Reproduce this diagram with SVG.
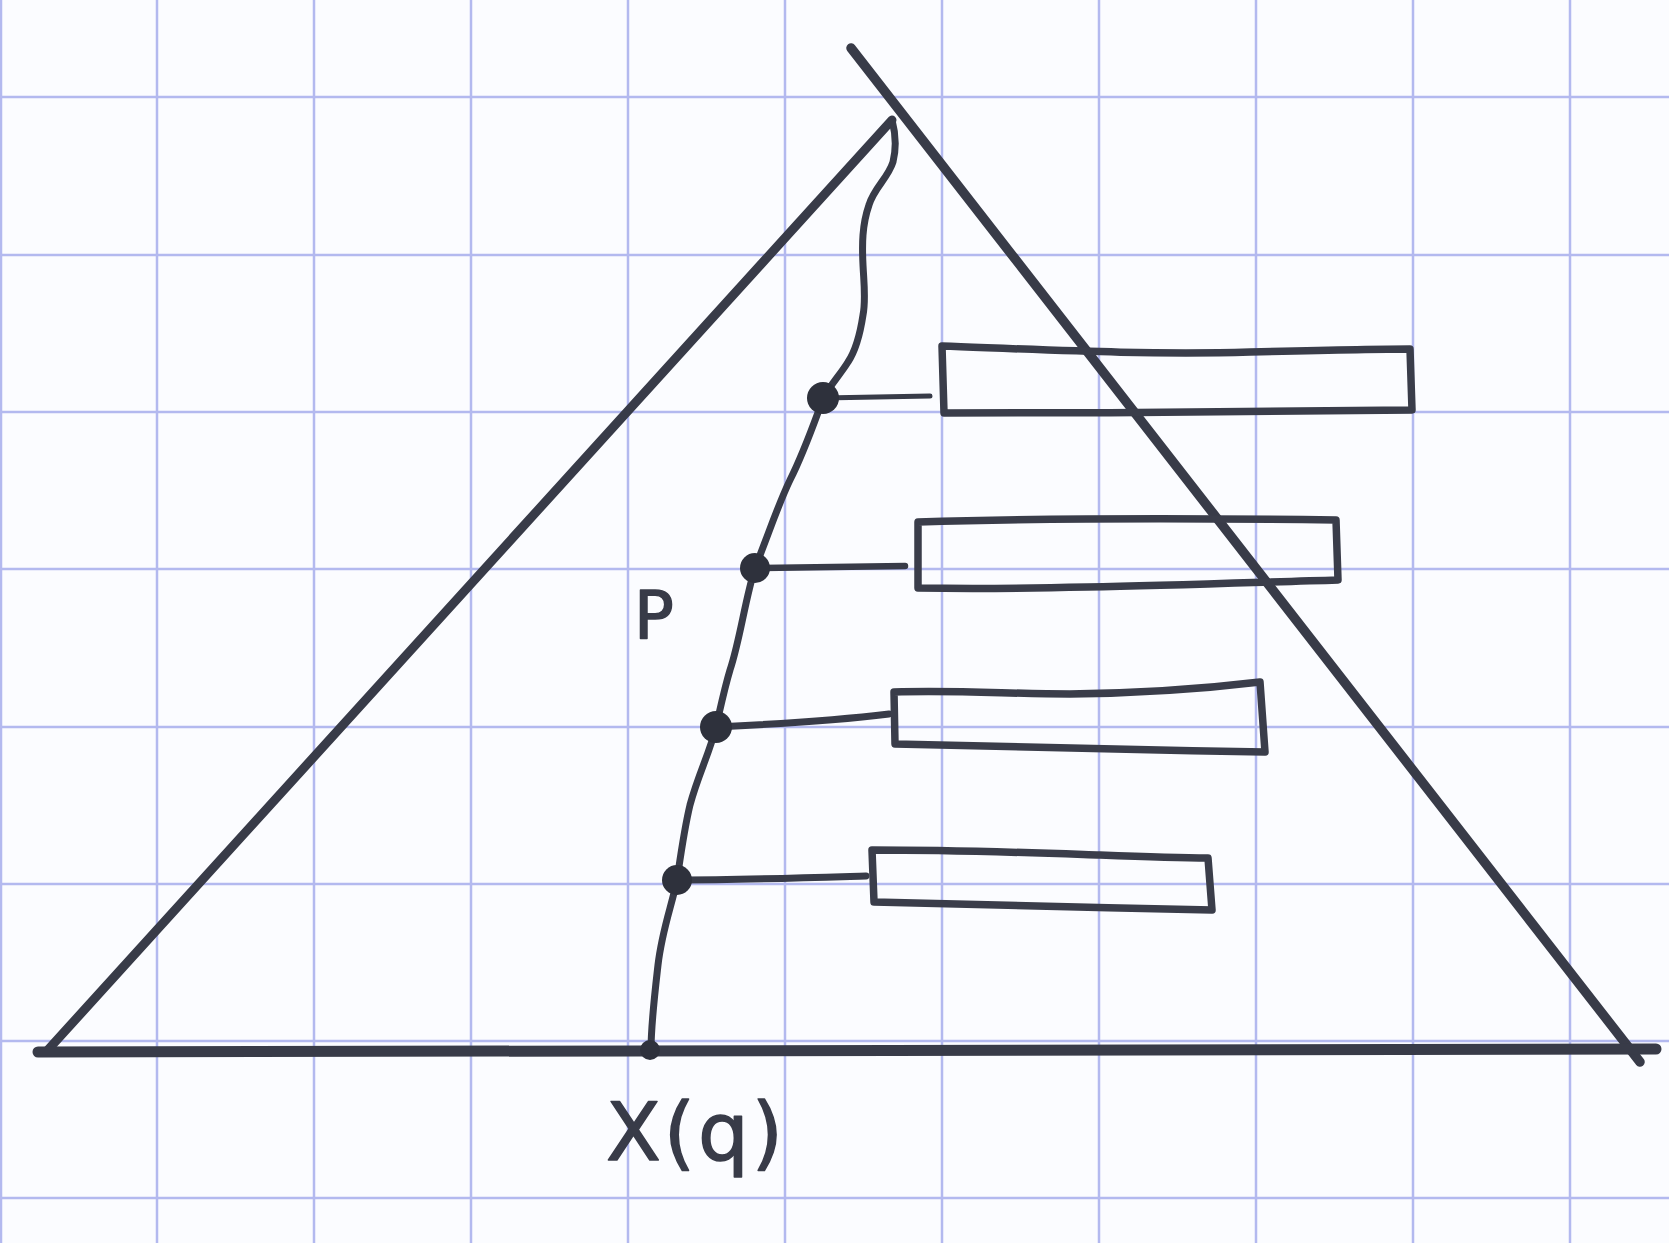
<svg xmlns="http://www.w3.org/2000/svg" width="1669" height="1243" viewBox="0 0 1669 1243">
<style>
.grid{stroke:#b3b9ef;stroke-width:2.5;fill:none}
.ink{stroke:#383b48;fill:none;stroke-linecap:round;stroke-linejoin:round}
.box{stroke:#3a3d4a;stroke-width:7.5;fill:none;stroke-linejoin:round}
.dot{fill:#2e313c}
.lbl{font-family:"DejaVu Sans","Liberation Sans",sans-serif;fill:#383b48;stroke:#383b48;stroke-width:1.5;stroke-linejoin:round}
</style>
<rect width="1669" height="1243" fill="#fbfcff"/>
<g id="grid" class="grid">
<line x1="1" y1="0" x2="1" y2="1243"/>
<line x1="157" y1="0" x2="157" y2="1243"/>
<line x1="314" y1="0" x2="314" y2="1243"/>
<line x1="471" y1="0" x2="471" y2="1243"/>
<line x1="628" y1="0" x2="628" y2="1243"/>
<line x1="785" y1="0" x2="785" y2="1243"/>
<line x1="942" y1="0" x2="942" y2="1243"/>
<line x1="1099" y1="0" x2="1099" y2="1243"/>
<line x1="1256" y1="0" x2="1256" y2="1243"/>
<line x1="1413" y1="0" x2="1413" y2="1243"/>
<line x1="1570" y1="0" x2="1570" y2="1243"/>
<line x1="0" y1="97" x2="1669" y2="97"/>
<line x1="0" y1="255" x2="1669" y2="255"/>
<line x1="0" y1="412" x2="1669" y2="412"/>
<line x1="0" y1="569" x2="1669" y2="569"/>
<line x1="0" y1="727" x2="1669" y2="727"/>
<line x1="0" y1="884" x2="1669" y2="884"/>
<line x1="0" y1="1041" x2="1669" y2="1041"/>
<line x1="0" y1="1198" x2="1669" y2="1198"/>
</g>
<g id="triangle" class="ink">
<line x1="892" y1="120" x2="46" y2="1052" stroke-width="9"/>
<line x1="851" y1="48" x2="1640" y2="1062" stroke-width="9.5"/>
<line x1="38" y1="1052" x2="1656" y2="1049" stroke-width="11"/>
</g>
<g id="spine" class="ink">
<path d="M892,120 C896,135 896,150 893,162 C888,178 874,188 869,205 C862,225 862,245 863,265 C864,285 866,300 863,315 C860,335 856,350 848,362 C840,375 830,385 823,399 C815,420 805,450 790,480 C778,505 770,530 755,568 C745,600 740,640 730,670 C724,690 720,710 716,727 C710,752 698,775 690,805 C684,830 680,860 677,880 C672,905 662,930 658,965 C654,1000 651,1025 651,1050" stroke-width="7"/>
</g>
<g id="connectors" class="ink">
<path d="M823,398 L930,396" stroke-width="5"/>
<path d="M755,568 L905,566" stroke-width="6.5"/>
<path d="M716,727 C780,724 840,720 889,714" stroke-width="7"/>
<path d="M677,880 C740,880 800,878 866,876" stroke-width="7"/>
</g>
<g id="node-p1">
<circle class="dot" cx="823" cy="398" r="16"/>
</g>
<g id="node-p2">
<circle class="dot" cx="755" cy="568" r="15"/>
</g>
<g id="node-p3">
<circle class="dot" cx="716" cy="727" r="16"/>
</g>
<g id="node-p4">
<circle class="dot" cx="677" cy="880" r="15"/>
</g>
<g id="node-xq">
<circle class="dot" cx="650" cy="1050" r="10"/>
</g>
<g id="node-box1">
<path class="box" d="M942,346 C1050,350 1150,355 1250,352 C1330,350 1380,349 1410,349 L1412,410 C1300,412 1100,413 944,413 Z"/>
</g>
<g id="node-box2">
<path class="box" d="M918,522 C1050,518 1200,518 1336,520 L1338,580 C1200,584 1050,590 918,588 Z"/>
</g>
<g id="node-box3">
<path class="box" d="M894,692 C960,690 1010,694 1070,694 C1150,693 1210,688 1260,682 L1265,752 C1150,750 1050,748 895,744 Z"/>
</g>
<g id="node-box4">
<path class="box" d="M872,850 C960,850 1040,853 1100,855 C1150,857 1190,858 1208,858 L1212,910 C1100,908 1000,904 874,902 Z"/>
</g>
<g id="labels">
<text class="lbl" x="634" y="638" font-size="66">P</text>
<text class="lbl" x="606" y="1160" font-size="80" letter-spacing="3">X(q)</text>
</g>
</svg>
